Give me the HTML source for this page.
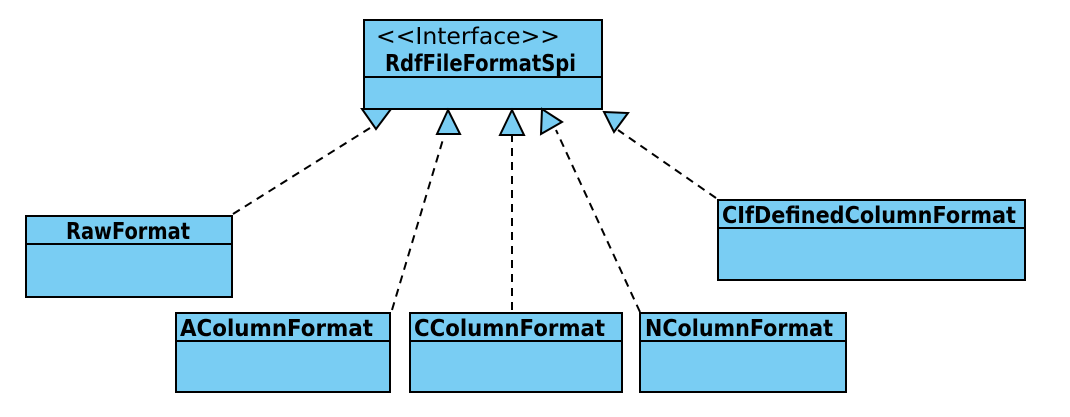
<!DOCTYPE html>
<html><head><meta charset="utf-8"><style>
body{margin:0;background:#fff;}
svg text{font-family:"DejaVu Sans","Liberation Sans",sans-serif;}
</style></head><body>
<svg width="1070" height="412" xmlns="http://www.w3.org/2000/svg">
<g stroke="#000" stroke-width="2" fill="#79cdf3">
<rect x="364" y="20" width="238" height="89"/>
<line x1="364" y1="77" x2="602" y2="77"/>
<rect x="26" y="216" width="206" height="81"/>
<line x1="26" y1="244" x2="232" y2="244"/>
<rect x="176" y="313" width="214" height="79"/>
<line x1="176" y1="341" x2="390" y2="341"/>
<rect x="410" y="313" width="212" height="79"/>
<line x1="410" y1="341" x2="622" y2="341"/>
<rect x="640" y="313" width="206" height="79"/>
<line x1="640" y1="341" x2="846" y2="341"/>
<rect x="718" y="200" width="307" height="80"/>
<line x1="718" y1="228" x2="1025" y2="228"/>
</g>
<g stroke="#000" stroke-width="2" stroke-dasharray="8,6" fill="none">
<line x1="233" y1="214" x2="370" y2="128"/>
<line x1="392" y1="310" x2="444" y2="136"/>
<line x1="512" y1="310" x2="512" y2="136"/>
<line x1="640" y1="312" x2="556" y2="130"/>
<line x1="716" y1="198" x2="618" y2="130"/>
</g>
<g stroke="#000" stroke-width="2" fill="#79cdf3" stroke-linejoin="miter">
<polygon points="362,109 391,109 376,129"/>
<polygon points="448,110 437,134 460,134"/>
<polygon points="512,110 500,135 524,135"/>
<polygon points="542,109 541,134 562,122"/>
<polygon points="604,112 628,113 614,132"/>
</g>
<g fill="#000">
<text x="376" y="44" style="font-size:23px" textLength="184" lengthAdjust="spacingAndGlyphs">&lt;&lt;Interface&gt;&gt;</text>
<text x="385" y="71" style="font-size:23px;font-weight:bold" textLength="191" lengthAdjust="spacingAndGlyphs">RdfFileFormatSpi</text>
<text x="66" y="239" style="font-size:23px;font-weight:bold" textLength="124" lengthAdjust="spacingAndGlyphs">RawFormat</text>
<text x="180" y="336" style="font-size:23px;font-weight:bold" textLength="193" lengthAdjust="spacingAndGlyphs">AColumnFormat</text>
<text x="414" y="336" style="font-size:23px;font-weight:bold" textLength="191" lengthAdjust="spacingAndGlyphs">CColumnFormat</text>
<text x="645" y="336" style="font-size:23px;font-weight:bold" textLength="188" lengthAdjust="spacingAndGlyphs">NColumnFormat</text>
<text x="722" y="223" style="font-size:23px;font-weight:bold" textLength="294" lengthAdjust="spacingAndGlyphs">CIfDefinedColumnFormat</text>
</g>
</svg>
</body></html>
